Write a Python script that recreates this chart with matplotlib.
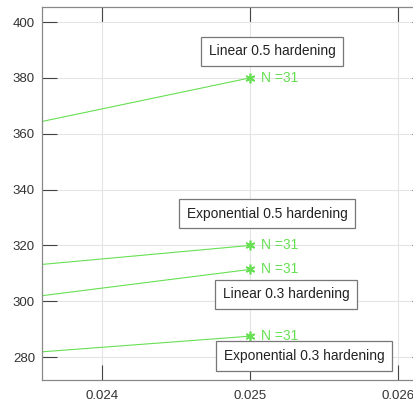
import matplotlib.pyplot as plt

plt.rcParams['font.family'] = ['Liberation Sans', 'DejaVu Sans']

# left edge of view and end point at x = 0.025
x_start = [0.023595, 0.023595, 0.023595, 0.023595]
x_end = [0.025, 0.025, 0.025, 0.025]
y_start = [364.4, 313.2, 302.0, 281.9]
y_end = [380.0, 320.0, 311.4, 287.5]
n_iter = [31, 31, 31, 31]
names = ['Linear 0.5 hardening', 'Exponential 0.5 hardening',
         'Linear 0.3 hardening', 'Exponential 0.3 hardening']
# label box centres (data coords)
lab_x = [0.025149, 0.025115, 0.025243, 0.025365]
lab_y = [389.6, 331.4, 302.5, 280.4]

green = '#66e052'

fig = plt.figure(figsize=(4.14, 4.07), dpi=100)
ax = fig.add_axes([0.1014, 0.0663, 0.931, 0.9165])

for i in range(4):
    ax.plot([x_start[i], x_end[i]], [y_start[i], y_end[i]], color=green, linewidth=0.8)
    ax.plot(x_end[i], y_end[i], marker=(6, 2, 0), color=green, markersize=7,
            markeredgewidth=1.2)
    ax.text(x_end[i] + 0.000075, y_end[i], 'N =%d' % n_iter[i], color=green,
            fontsize=10, va='center', ha='left')
    ax.text(lab_x[i], lab_y[i], names[i], fontsize=9.9, color='#222222',
            ha='center', va='center',
            bbox=dict(boxstyle='square,pad=0.55', facecolor='white',
                      edgecolor='#777777', linewidth=0.9))

ax.set_xlim(0.023595, 0.0262)
ax.set_ylim(271.8, 405.4)
ax.set_xticks([0.024, 0.025, 0.026])
ax.set_xticklabels(['0.024', '0.025', '0.026'])
ax.set_yticks([280, 300, 320, 340, 360, 380, 400])
ax.grid(True, color='#e4e4e4', linewidth=0.8)
ax.set_axisbelow(True)
ax.tick_params(direction='in', length=10.5, width=0.8, color='#444444',
               labelsize=9.5, labelcolor='#333333', top=True, right=True, pad=5)
ax.tick_params(axis='x', pad=7)
for s in ax.spines.values():
    s.set_color('#888888')
    s.set_linewidth(0.9)

plt.savefig('out.png', dpi=100)
